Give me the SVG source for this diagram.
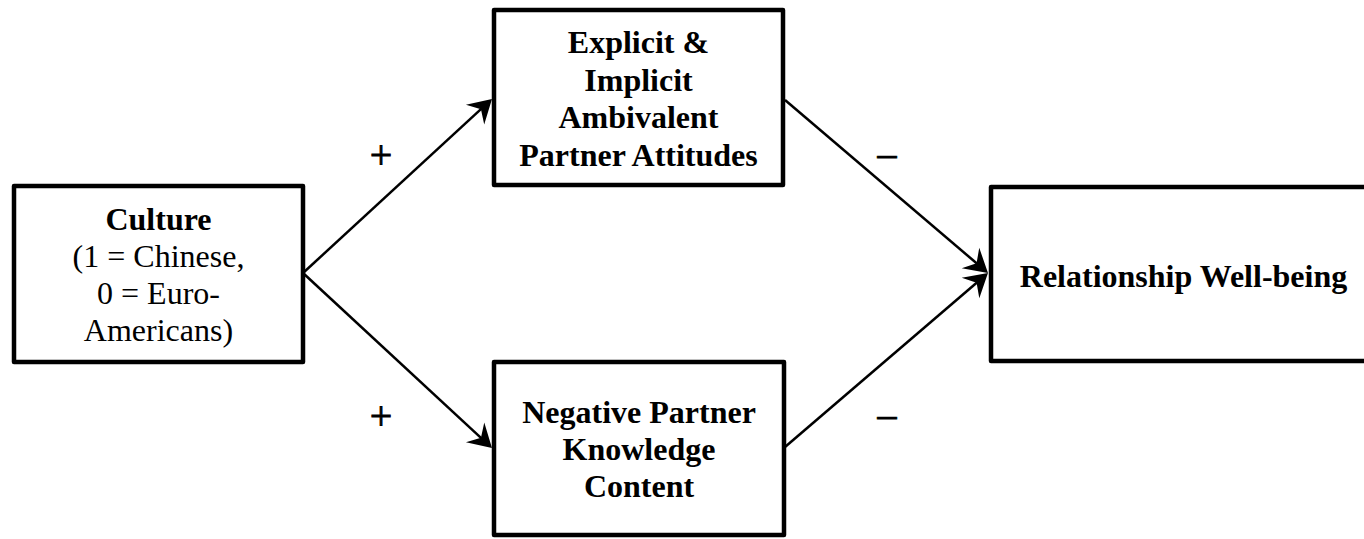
<svg xmlns="http://www.w3.org/2000/svg" width="1364" height="539" viewBox="0 0 1364 539">
  <style>
    .box { fill: #ffffff; stroke: #000000; stroke-width: 4.5; stroke-linejoin: round; }
    .t { font-family: "Liberation Serif", "Times New Roman", serif; font-size: 32px; fill: #000000; text-anchor: middle; }
    .b { font-weight: bold; }
    .conn { stroke: #000000; stroke-width: 2.5; fill: none; marker-end: url(#arr); }
    .sign { font-family: "Liberation Serif", "Times New Roman", serif; fill: #000000; stroke: #000000; stroke-width: 0.8; text-anchor: middle; }
    .plus { font-size: 40px; }
    .minus { font-size: 38px; }
  </style>
  <defs>
    <marker id="arr" markerUnits="userSpaceOnUse" orient="auto" refX="0" refY="0" markerWidth="30" markerHeight="30" viewBox="-15 -15 30 30" overflow="visible">
      <path d="M8,0 L-15,-13.5 L-7,0 L-15,13.5 Z" fill="#000000"/>
    </marker>
  </defs>
  <rect width="1364" height="539" fill="#ffffff"/>

  <g id="connectors">
    <line class="conn" x1="303" y1="273" x2="486.1" y2="104.4"/>
    <line class="conn" x1="303" y1="273" x2="486.1" y2="442.6"/>
    <line class="conn" x1="785" y1="100" x2="981.9" y2="267.8"/>
    <line class="conn" x1="785" y1="447" x2="981.9" y2="278.2"/>
    <text class="sign plus" x="381" y="168">+</text>
    <text class="sign plus" x="381" y="429">+</text>
    <text class="sign minus" x="887" y="166">–</text>
    <text class="sign minus" x="887" y="427">–</text>
  </g>

  <g id="culture">
    <rect class="box" x="14" y="186" width="289" height="176"/>
    <text class="t b" x="158.5" y="230">Culture</text>
    <text class="t" x="158.5" y="267">(1 = Chinese,</text>
    <text class="t" x="158.5" y="304">0 = Euro-</text>
    <text class="t" x="158.5" y="341">Americans)</text>
  </g>

  <g id="ambivalence">
    <rect class="box" x="494" y="10" width="289" height="175"/>
    <text class="t b" x="638.5" y="53">Explicit &amp;</text>
    <text class="t b" x="638.5" y="90.5">Implicit</text>
    <text class="t b" x="638.5" y="128">Ambivalent</text>
    <text class="t b" x="638.5" y="165.5">Partner Attitudes</text>
  </g>

  <g id="knowledge">
    <rect class="box" x="494" y="362" width="290" height="173"/>
    <text class="t b" x="639" y="423">Negative Partner</text>
    <text class="t b" x="639" y="460">Knowledge</text>
    <text class="t b" x="639" y="497">Content</text>
  </g>

  <g id="wellbeing">
    <rect class="box" x="991" y="187" width="390" height="174"/>
    <text class="t b" x="1183.5" y="287">Relationship Well-being</text>
  </g>
</svg>
